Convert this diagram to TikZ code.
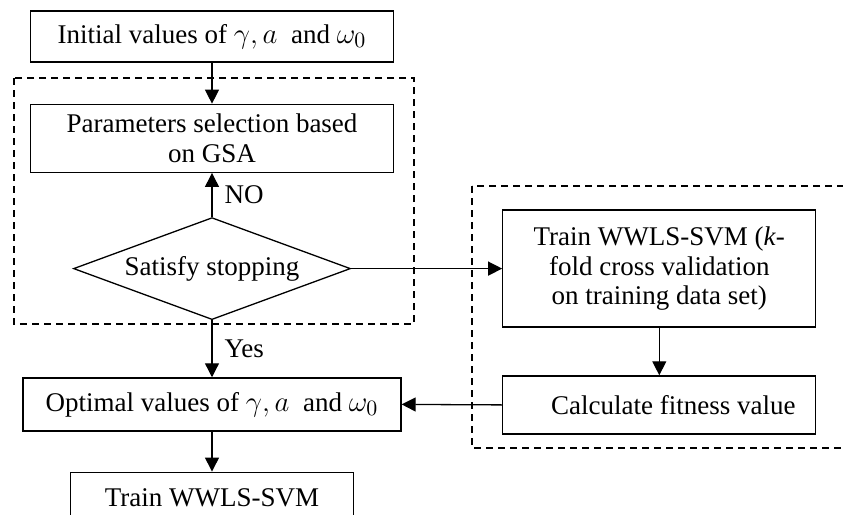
\documentclass[tikz,border=0pt]{standalone}
\usepackage{fontspec}
\setmainfont{Liberation Serif}
\usetikzlibrary{positioning, shapes.geometric, arrows.meta}
\newcommand{\largemath}[1]{{\fontsize{15.5}{15.5}\selectfont$#1$}}
\tikzstyle{Box} = [draw, line width=0.65pt, align=center, inner sep=2pt]
\tikzstyle{Decision} = [draw, diamond, line width=0.65pt, aspect=2.7,
inner sep=0pt, minimum width=138.5pt, minimum height=51pt]
\tikzstyle{Arrow} = [line width=0.65pt, -{Triangle[length=7pt, width=7pt]}]
\tikzstyle{Region} = [line width=0.65pt, dash pattern=on 3.5pt off 2.5pt]

\begin{document}
\begin{tikzpicture}[x=0.5pt, y=-0.5pt, font=\fontsize{13.5}{14.8}\selectfont]
    \useasboundingbox (0,0) rectangle (843,515);
    % left column
    \node [Box, minimum width=181.5pt, minimum height=25.5pt] (init) at (212,36.5) {Initial values of \largemath{\gamma, a}\ \ and \largemath{\omega_0}};
    \node [Box, minimum width=181.5pt, minimum height=34pt, below=20.5pt of init] (param) {Parameters selection based\\on GSA};
    \node [Decision, below=22pt of param] (stop) {Satisfy stopping};
    \node [Box, minimum width=189pt, minimum height=26.5pt, below=28.5pt of stop] (opt) {Optimal values of \largemath{\gamma, a}\ \ and \largemath{\omega_0}};
    \node [Box, minimum width=141.5pt, minimum height=26pt, below=20pt of opt] (final) {Train WWLS-SVM};
    % right column
    \node [Box, minimum width=156.5pt, minimum height=58.5pt, right=75.5pt of stop] (cv) {Train WWLS-SVM (\textit{k}-\\fold cross validation\\on training data set)};
    \node [Box, minimum width=156.5pt, minimum height=29pt, below=23.75pt of cv] (fit) {\hspace*{14pt}Calculate fitness value};
    % dashed regions
    \draw[Region] (14,78) rectangle (414,324);
    \draw[Region] (472,186) rectangle (870,448);
    % arrows
    \draw[Arrow] (init.south) -- (param.north);
    \draw[Arrow] (stop.north) -- node[right, inner sep=6pt] (no) {NO} (param.south);
    \draw[Arrow] (stop.east) -- (cv.west);
    \draw[Arrow] (stop.south) -- node[right, inner sep=6pt] (yes) {Yes} (opt.north);
    \draw[Arrow] (cv.south) -- (fit.north);
    \draw[Arrow] (fit.west) -- (opt.east);
    \draw[Arrow] (opt.south) -- (final.north);
\end{tikzpicture}
\end{document}
